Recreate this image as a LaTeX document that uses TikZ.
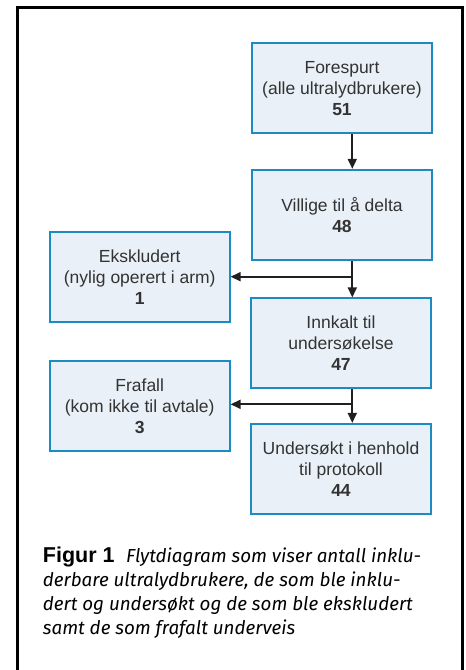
\documentclass[tikz,border=0pt]{standalone}
\usepackage{fontspec}
\setmainfont{Liberation Sans}
\newfontfamily\capfont{Fira Sans}
\usetikzlibrary{arrows.meta,calc}
\definecolor{boxfill}{HTML}{E9F0F7}
\definecolor{boxline}{HTML}{1C8BC2}
\definecolor{txt}{HTML}{333333}
\definecolor{arr}{HTML}{231F20}
\begin{document}
\begin{tikzpicture}[x=1pt,y=-1pt,
  flowbox/.style={draw=boxline,fill=boxfill,line width=1.8pt,minimum width=180pt,minimum height=90pt,
    align=center,font=\fontsize{17.5}{21}\selectfont,text=txt,inner sep=0pt},
  conn/.style={draw=arr,line width=1.8pt,-{Triangle[length=10pt,width=9pt]}},
  capline/.style={anchor=base west,inner sep=0pt,font=\capfont\fontsize{18.8}{22}\selectfont,text=black}]
\useasboundingbox (0,0) rectangle (466,670);
\fill[white] (0,0) rectangle (466,670);
\draw[line width=2.2pt,black] (17.5,675) -- (17.5,7.5) -- (462.5,7.5) -- (462.5,675);
\node[flowbox] (b1) at (342,88.3) {Forespurt\\(alle ultralydbrukere)\\\textbf{51}};
\node[flowbox] (b2) at (342,214.7) {Villige til å delta\\\textbf{48}};
\node[flowbox] (b3) at (341,343.3) {Innkalt til\\undersøkelse\\\textbf{47}};
\node[flowbox] (b4) at (341,468.8) {Undersøkt i henhold\\til protokoll\\\textbf{44}};
\node[flowbox] (e1) at (139.7,277.3) {Ekskludert\\(nylig operert i arm)\\\textbf{1}};
\node[flowbox] (e2) at (139.7,406.3) {Frafall\\(kom ikke til avtale)\\\textbf{3}};
\coordinate (ax) at (352.3,0);
\coordinate (j1) at (352.3,276.7);
\coordinate (j2) at (352.3,404.3);
\draw[conn] (b1.south -| ax) -- (b2.north -| ax);
\draw[conn] (b2.south -| ax) -- (b3.north -| ax);
\draw[conn] (b3.south -| ax) -- (b4.north -| ax);
\draw[conn] (j1) -- (e1.east |- j1);
\draw[conn] (j2) -- (e2.east |- j2);
\node[capline] (c1) at (42.7,562.7) {{\rmfamily\bfseries\fontsize{21.5}{22}\selectfont Figur 1}\hspace{11.5pt}\itshape Flytdiagram som viser antall inklu-};
\node[capline] (c2) at (42.7,586.7) {\itshape derbare ultralydbrukere, de som ble inklu-};
\node[capline] (c3) at (42.7,610.7) {\itshape dert og undersøkt og de som ble ekskludert};
\node[capline] (c4) at (42.7,634.7) {\itshape samt de som frafalt underveis};
\end{tikzpicture}
\end{document}
